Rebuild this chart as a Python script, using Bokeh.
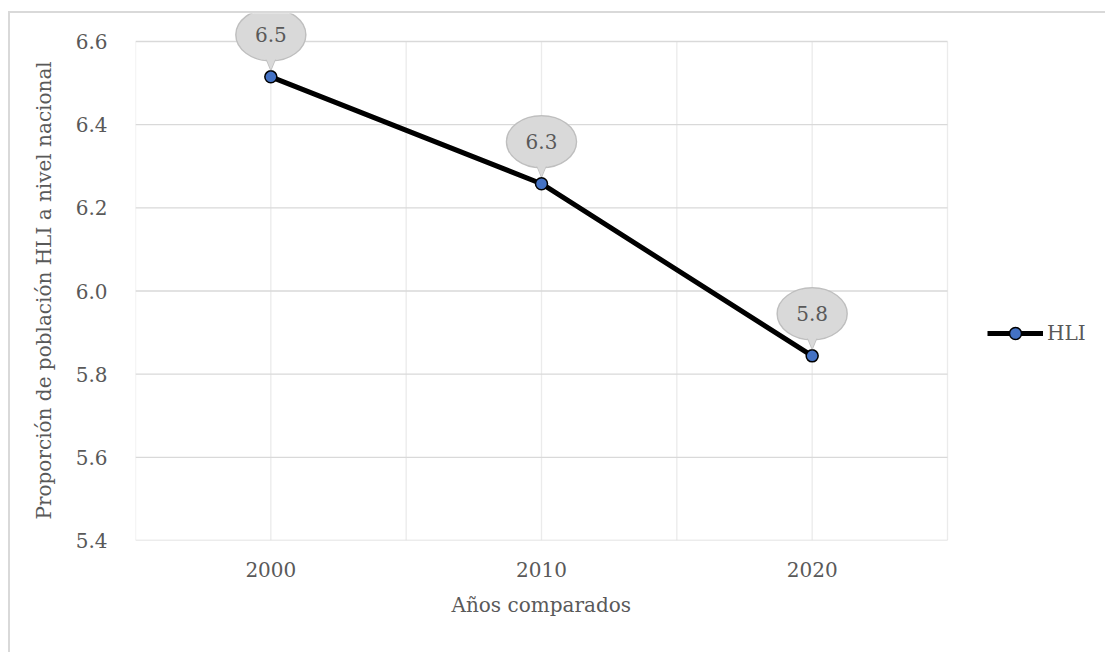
from bokeh.plotting import figure
from bokeh.models import FixedTicker, Legend, LegendItem, Range1d, NumeralTickFormatter, Title
from bokeh.core.properties import value
from bokeh.embed import file_html
from bokeh.resources import INLINE

# Share of the HLI population nationwide, by census year
years = ["2000", "2010", "2020"]
hli_share = [6.515, 6.258, 5.844]
y_ticks = [5.4, 5.6, 5.8, 6.0, 6.2, 6.4, 6.6]

FONT = value("DejaVu Serif")
TEXT_COLOR = "#595959"

FIG_W, FIG_H = 1097, 641
LEFT, BOTTOM = 125, 114            # room for the axes
PLOT_W, PLOT_H = 812, 499          # size of the 5.4–6.6 plotting area
HEADROOM = 28                      # px above 6.6 kept free for the top callout
X0, X1 = 0.5, len(years) + 0.5
Y0, Y1 = y_ticks[0], y_ticks[-1]
PPX = PLOT_W / (X1 - X0)           # pixels per x unit
PPY = PLOT_H / (Y1 - Y0)           # pixels per y unit
FRAME_W = FIG_W - LEFT
X_END = X0 + FRAME_W / PPX         # frame runs on to the right edge (legend area)

xs = [i + 1 for i in range(len(years))]

p = figure(
    width=FIG_W, height=FIG_H,
    x_range=Range1d(X0, X_END), y_range=Range1d(Y0, Y1 + HEADROOM / PPY),
    output_backend="svg", toolbar_location=None,
    min_border_left=LEFT, min_border_right=0,
    min_border_top=0, min_border_bottom=BOTTOM,
)
p.margin = (11, 0, 0, 8)
p.styles = {"border-left": "2px solid #d9d9d9", "border-top": "2px solid #d9d9d9"}
p.outline_line_color = None
p.background_fill_color = "white"
p.border_fill_color = "white"

# grid, limited to the plotting area
p.xgrid.visible = False
p.ygrid.visible = False
grid_x = [X0 + 0.5 * k for k in range(2 * len(years) + 1)]
p.segment(x0=grid_x, y0=[Y0] * len(grid_x), x1=grid_x, y1=[Y1] * len(grid_x),
          line_color="#ebebeb", line_width=1.3)
p.segment(x0=[X0] * len(y_ticks), y0=y_ticks, x1=[X1] * len(y_ticks), y1=y_ticks,
          line_color="#d9d9d9", line_width=1.3)

# axes
for ax in (p.xaxis, p.yaxis):
    ax.axis_line_color = None
    ax.major_tick_line_color = None
    ax.minor_tick_line_color = None
    ax.major_label_text_font = "DejaVu Serif"
    ax.major_label_text_font_size = "20px"
    ax.major_label_text_color = TEXT_COLOR

p.yaxis.ticker = FixedTicker(ticks=y_ticks)
p.yaxis.formatter = NumeralTickFormatter(format="0.0")
p.yaxis.major_label_standoff = 22

p.xaxis.ticker = FixedTicker(ticks=xs)
p.xaxis.major_label_overrides = {x: y for x, y in zip(xs, years)}
p.xaxis.major_label_standoff = 15

# axis titles, placed over the plotting area rather than the whole frame
TITLE_STYLE = dict(text_font="DejaVu Serif", text_font_size="20px",
                   text_font_style="normal", text_color=TEXT_COLOR)
x_title = Title(text="Años comparados", align="left", offset=316, standoff=22, **TITLE_STYLE)
y_title = Title(text="Proporción de población HLI a nivel nacional", align="left",
                offset=21, standoff=34, **TITLE_STYLE)
p.add_layout(x_title, "below")
p.add_layout(y_title, "left")

# series
line_r = p.line(xs, hli_share, line_color="black", line_width=5)
dot_r = p.scatter(xs, hli_share, size=12, fill_color="#4472C4",
                  line_color="black", line_width=1.5)

# value callouts: ellipse with a short tail down to the point
RISE = 42      # px from point to bubble centre
BW, BH = 70, 52
bubble_y = [v + RISE / PPY for v in hli_share]
tail_xs = [[x - 7 / PPX, x + 7 / PPX, x] for x in xs]
tail_ys = [[v + 24 / PPY, v + 24 / PPY, v + 7 / PPY] for v in hli_share]

BUB_FILL, BUB_LINE = "#d9d9d9", "#bfbfbf"
p.ellipse(xs, bubble_y, width=BW, height=BH, width_units="screen", height_units="screen",
          fill_color=BUB_FILL, line_color=BUB_LINE, line_width=1.5)
p.patches(tail_xs, tail_ys, fill_color=BUB_FILL, line_color=BUB_LINE, line_width=1.5)
p.ellipse(xs, bubble_y, width=BW - 2, height=BH - 2, width_units="screen", height_units="screen",
          fill_color=BUB_FILL, line_color=None)
p.patches(tail_xs, tail_ys, fill_color=BUB_FILL, line_color=None)
p.text(xs, bubble_y, text=[f"{v:.1f}" for v in hli_share],
       text_font=FONT, text_font_size="20px", text_color=TEXT_COLOR,
       text_align="center", text_baseline="middle")

legend = Legend(
    items=[LegendItem(label="HLI", renderers=[line_r, dot_r])],
    location=(852, 192),
    glyph_width=56, glyph_height=30, label_standoff=4,
    padding=0, margin=0, border_line_color=None, background_fill_alpha=0,
    label_text_font="DejaVu Serif", label_text_font_size="20px",
    label_text_color=TEXT_COLOR,
)
p.add_layout(legend)

open("out.html", "w").write(file_html(p, INLINE))
